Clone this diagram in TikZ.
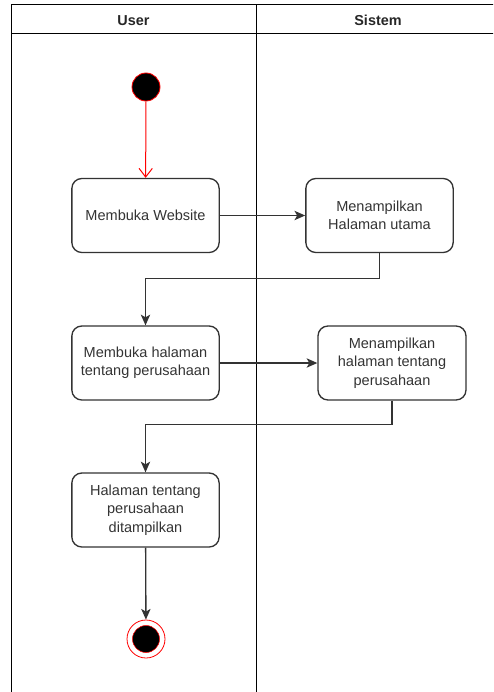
\documentclass[tikz,border=0pt]{standalone}
\usepackage{fontspec}
\setmainfont{Liberation Sans}
\usetikzlibrary{arrows.meta}
\definecolor{txtgray}{HTML}{333333}

\begin{document}
\begin{tikzpicture}[x=0.75pt,y=0.75pt,yscale=-1,xscale=1,
  act/.style={draw=txtgray, line width=1pt, rounded corners=7.5pt, align=center,
    minimum width=110.5pt, minimum height=55.5pt, inner sep=2pt, text=txtgray,
    font=\fontsize{10.9pt}{13.7pt}\selectfont},
  lanehead/.style={font=\fontsize{10.8pt}{13pt}\selectfont\bfseries, text=black!85},
  flow/.style={draw=txtgray, line width=1pt, -{Stealth[length=8pt,width=7pt,inset=2pt]}}]
\useasboundingbox (0,0) rectangle (493,692);
\clip (0,0) rectangle (493,692);
% swimlanes
\draw [line width=0.75pt] (11,5) rectangle (500,700);
\draw [line width=0.75pt] (11,34) -- (500,34);
\draw [line width=0.75pt] (256,5) -- (256,700);
\node [lanehead] (user) at (133.5,20.5) {User};
\node [lanehead] (sistem) at (378,20.5) {Sistem};
% start / end
\node [circle, draw=red, fill=black, line width=0.6pt, minimum size=21pt, inner sep=0pt] (start) at (146,87) {};
\node [circle, draw=red, fill=white, line width=0.6pt, minimum size=28.5pt, inner sep=0pt] (stop) at (146,639) {};
\draw [red, fill=black, line width=0.4pt] (stop.center) circle (13.5);
% activities
\node [act] (website) at (145.5,215.5) {Membuka Website};
\node [act] (utama) at (379.5,215.5) {Menampilkan\\Halaman utama};
\node [act] (buka) at (145.5,363) {Membuka halaman\\tentang perusahaan};
\node [act, minimum width=111pt] (tentang) at (392,363) {Menampilkan\\halaman tentang\\perusahaan};
\node [act] (tampil) at (145.5,510) {Halaman tentang\\perusahaan\\ditampilkan};
% flows
\draw [red, line width=0.75pt, -{Straight Barb[length=6.5pt,width=10pt]}] (start) -- (website);
\draw [flow] (website) -- (utama);
\draw [flow] (utama.south) -- ++(0,25) -| (buka.north);
\draw [flow] (buka) -- (tentang);
\draw [flow] (tentang.south) -- ++(0,24) -| (tampil.north);
\draw [flow] (tampil) -- (stop);
\end{tikzpicture}
\end{document}
